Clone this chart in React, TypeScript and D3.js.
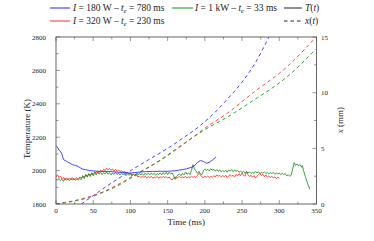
import * as d3 from 'd3';
import React from 'react';

// temperature traces (t in ms, T in K)
const blueT: [number, number][] = [
  [0, 2150], [2, 2140], [4, 2122], [6, 2115], [8, 2098], [10, 2066], [14, 2056], [18, 2046],
  [22, 2036], [26, 2031], [30, 2024], [35, 2010], [40, 2005], [45, 2000], [50, 1998], [60, 1995],
  [70, 1995], [80, 1992], [90, 1988], [100, 1985], [110, 1990], [120, 1994], [130, 1995],
  [140, 1996], [150, 1996], [160, 1999], [170, 2006], [175, 2010], [180, 2017], [185, 2025],
  [190, 2048], [194, 2060], [198, 2055], [202, 2044], [206, 2050], [210, 2062], [215, 2082],
];

// red: sampled every 2 ms from 0 to 300 ms
const redTimes = d3.range(0, 301, 2);
const redValues = [
  1962, 1975, 1958, 1968, 1950, 1960, 1948, 1957, 1944, 1956, 1950, 1958, 1944, 1952, 1958, 1948,
  1962, 1955, 1966, 1960, 1974, 1965, 1980, 1972, 1986, 1978, 1992, 1984, 1996, 1988, 2002, 1994,
  2008, 2000, 2014, 2004, 2012, 2002, 2010, 1998, 2008, 1996, 2004, 1994, 2000, 1990, 1996, 1986,
  1990, 1980, 1986, 1974, 1978, 1968, 1972, 1962, 1968, 1958, 1966, 1960, 1966, 1956, 1964, 1958,
  1966, 1955, 1962, 1957, 1965, 1954, 1963, 1957, 1966, 1958, 1964, 1954, 1962, 1950, 1944, 1956,
  1962, 1954, 1960, 1966, 1956, 1962, 1958, 1966, 1956, 1962, 1958, 1966, 1960, 1964, 1958, 1970,
  1984, 1974, 1962, 1958, 1966, 1960, 1968, 1958, 1964, 1960, 1970, 1962, 1974, 1966, 1972, 1962,
  1970, 1964, 1972, 1958, 1968, 1976, 1966, 1972, 1962, 1978, 1968, 1982, 1970, 1986, 1972, 1966,
  1996, 1976, 1964, 1972, 1960, 1970, 1956, 1966, 1976, 1984, 1970, 1978, 1964, 1974, 1962, 1968,
  1958, 1966, 1956, 1962, 1952, 1960, 1954,
];

// green: sampled every 2 ms from 0 to 316 ms, then the final burst
const greenTimes = d3.range(0, 317, 2);
const greenValues = [
  1950, 1942, 1952, 1940, 1948, 1936, 1950, 1942, 1952, 1940, 1950, 1944, 1954, 1942, 1950, 1944,
  1952, 1946, 1970, 1952, 1978, 1960, 1982, 1964, 1986, 1968, 1990, 1974, 1992, 1978, 1990, 1976,
  1988, 1980, 1992, 1978, 1988, 1974, 1986, 1978, 1990, 1976, 1986, 1974, 1984, 1976, 1984, 1970,
  1980, 1972, 1980, 1968, 1978, 1970, 1980, 1972, 1984, 1974, 1982, 1972, 1986, 1976, 1984, 1974,
  1986, 1976, 1984, 1972, 1982, 1976, 1986, 1974, 1988, 1978, 1990, 1976, 1990, 1980, 1986, 1970,
  1948, 1966, 1974, 1980, 1970, 1984, 1974, 1992, 1978, 1986, 1976, 2000, 2036, 2010, 1998, 1984,
  1996, 1980, 1976, 1998, 2010, 2000, 2008, 1998, 2012, 2002, 2008, 1996, 2006, 1996, 2004, 1992,
  2000, 1994, 2002, 1990, 2004, 1996, 2006, 1994, 2004, 1996, 2002, 1990, 1998, 1988, 1996, 1984,
  1994, 1986, 1992, 1982, 1990, 1984, 1994, 1986, 1992, 1982, 1990, 1984, 1992, 1982, 1990, 1980,
  1988, 1982, 1988, 1978, 1986, 1980, 1986, 1976, 1984, 1976, 1982, 1968, 1976, 1966, 1972,
];
const greenTail: [number, number][] = [
  [318, 2010], [320, 2048], [322, 2030], [324, 2040], [326, 2028], [328, 2036], [330, 2020],
  [331, 2030], [333, 1994], [335, 1964], [338, 1924], [341, 1888],
];

// position traces (t in ms, x in mm)
const blueX: [number, number][] = [
  [34, 0], [50, 0.75], [67, 1.55], [90, 2.55], [110, 3.4], [130, 4.2], [150, 5.0], [170, 5.9],
  [190, 6.85], [210, 8.0], [230, 9.4], [250, 10.95], [268, 12.7], [286, 15.0],
];
const redX: [number, number][] = [
  [0, 0], [45, 0.66], [67, 1.2], [90, 2.0], [108, 2.7], [140, 3.9], [167, 5.15], [203, 6.95],
  [230, 8.15], [265, 10.0], [310, 12.3], [348, 14.9],
];
const greenX: [number, number][] = [
  [0, 0], [45, 0.6], [67, 1.15], [90, 1.9], [108, 2.65], [140, 3.95], [171, 5.4], [203, 6.8],
  [230, 7.8], [265, 9.3], [310, 11.4], [349, 13.9],
];

const xTicks = [0, 50, 100, 150, 200, 250, 300, 350];
const tempTicks = [1800, 2000, 2200, 2400, 2600, 2800];
const mmTicks = [0, 5, 10, 15];

const BLUE = '#2323ff';
const RED = '#ff2a2a';
const GREEN = '#1f8f1f';
const AXIS = '#555';
const FONT = '"Liberation Serif", "DejaVu Serif", serif';

const zip = (ts: number[], vs: number[]): [number, number][] =>
  vs.slice(0, ts.length).map((v, i) => [ts[i], v]);

const App = () => {
  const margin = { left: 56, right: 316.5, top: 37, bottom: 204 };
  const x = d3.scaleLinear().domain([0, 350]).range([margin.left, margin.right]);
  const yT = d3.scaleLinear().domain([1800, 2800]).range([margin.bottom, margin.top]);
  const yX = d3.scaleLinear().domain([0, 15]).range([margin.bottom, margin.top]);

  const tLine = d3.line<[number, number]>().x((d) => x(d[0])).y((d) => yT(d[1]));
  const xLine = d3.line<[number, number]>().x((d) => x(d[0])).y((d) => yX(d[1])).curve(d3.curveMonotoneX);

  const redT = zip(redTimes, redValues);
  const greenT = [...zip(greenTimes, greenValues), ...greenTail];

  const minorX = d3.range(0, 351, 25);
  const minorT = d3.range(1800, 2801, 100);
  const minorMm = d3.range(0, 15.1, 2.5);

  // "I = ... – t_e = ... ms" with italic symbols and subscript e
  const legendLabel = (power: string, time: string) => (
    <>
      <tspan fontStyle="italic">I</tspan>
      <tspan>{` = ${power} – `}</tspan>
      <tspan fontStyle="italic">t</tspan>
      <tspan fontStyle="italic" fontSize={6.5} dy={2}>e</tspan>
      <tspan dy={-2}>{` = ${time}`}</tspan>
    </>
  );

  return (
    <svg width={374} height={241} style={{ position: 'absolute', left: 0, top: 0, background: '#fff', fontFamily: FONT }}>
      <defs>
        <clipPath id="plot">
          <rect x={margin.left} y={margin.top} width={margin.right - margin.left} height={margin.bottom - margin.top} />
        </clipPath>
      </defs>

      {/* ticks */}
      <g stroke={AXIS} strokeWidth={0.6}>
        {minorX.map((t) => {
          const len = t % 50 === 0 ? 4 : 2.5;
          return (
            <g key={t}>
              <line x1={x(t)} x2={x(t)} y1={margin.bottom} y2={margin.bottom - len} />
              <line x1={x(t)} x2={x(t)} y1={margin.top} y2={margin.top + len} />
            </g>
          );
        })}
        {minorT.map((v) => {
          const len = v % 200 === 0 ? 4 : 2.5;
          return <line key={v} x1={margin.left} x2={margin.left + len} y1={yT(v)} y2={yT(v)} />;
        })}
        {minorMm.map((v) => {
          const len = v % 5 === 0 ? 4 : 2.5;
          return <line key={v} x1={margin.right} x2={margin.right - len} y1={yX(v)} y2={yX(v)} />;
        })}
      </g>

      <g clipPath="url(#plot)" fill="none" strokeWidth={0.85}>
        <path d={xLine(blueX) ?? ''} stroke={BLUE} strokeDasharray="3.5,3" />
        <path d={xLine(redX) ?? ''} stroke={RED} strokeDasharray="3.5,3" />
        <path d={xLine(greenX) ?? ''} stroke={GREEN} strokeDasharray="3.5,3" />
        <path d={tLine(redT) ?? ''} stroke={RED} />
        <path d={tLine(greenT) ?? ''} stroke={GREEN} />
        <path d={tLine(blueT) ?? ''} stroke={BLUE} />
      </g>

      <rect x={margin.left} y={margin.top} width={margin.right - margin.left} height={margin.bottom - margin.top}
        fill="none" stroke={AXIS} strokeWidth={0.9} />

      {/* tick labels */}
      <g fontSize={7} fill="#222">
        {xTicks.map((t) => (
          <text key={t} x={x(t)} y={213} textAnchor="middle">{t}</text>
        ))}
        {tempTicks.map((v) => (
          <text key={v} x={46} y={yT(v) + 2.5} textAnchor="end">{v}</text>
        ))}
        {mmTicks.map((v) => (
          <text key={v} x={321} y={yX(v) + 2.5} textAnchor="start">{v}</text>
        ))}
      </g>

      <g fontSize={9} fill="#222">
        <text x={(margin.left + margin.right) / 2} y={225} textAnchor="middle">Time (ms)</text>
        <text transform="translate(30,129) rotate(-90)" textAnchor="middle">Temperature (K)</text>
        <text transform="translate(343,120) rotate(-90)" textAnchor="middle">
          <tspan fontStyle="italic">x</tspan> (mm)
        </text>
      </g>

      {/* legend */}
      <g fontSize={9.5} fill="#222">
        <line x1={50} x2={70} y1={8} y2={8} stroke={BLUE} strokeWidth={1} />
        <text x={73} y={11}>{legendLabel('180 W', '780 ms')}</text>
        <line x1={172} x2={193} y1={8} y2={8} stroke={GREEN} strokeWidth={1} />
        <text x={195} y={11}>{legendLabel('1 kW', '33 ms')}</text>
        <line x1={284} x2={302} y1={8} y2={8} stroke="#222" strokeWidth={1} />
        <text x={305} y={11}>
          <tspan fontStyle="italic">T</tspan>(<tspan fontStyle="italic">t</tspan>)
        </text>

        <line x1={50} x2={70} y1={21} y2={21} stroke={RED} strokeWidth={1} />
        <text x={73} y={24}>{legendLabel('320 W', '230 ms')}</text>
        <line x1={284} x2={302} y1={21} y2={21} stroke="#222" strokeWidth={1} strokeDasharray="3.5,3" />
        <text x={305} y={24}>
          <tspan fontStyle="italic">x</tspan>(<tspan fontStyle="italic">t</tspan>)
        </text>
      </g>
    </svg>
  );
};

export default App;
